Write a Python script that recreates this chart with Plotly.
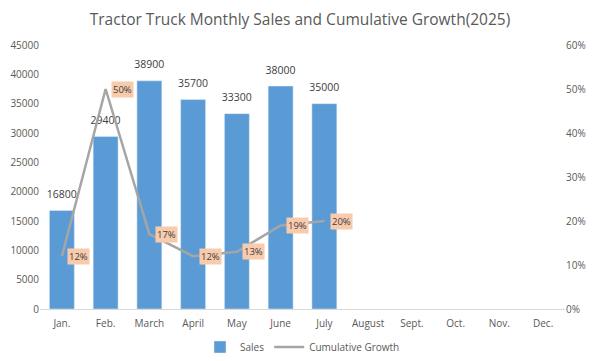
import plotly.graph_objects as go

months = ["Jan.", "Feb.", "March", "April", "May", "June", "July", "August", "Sept.", "Oct.", "Nov.", "Dec."]
sales = [16800, 29400, 38900, 35700, 33300, 38000, 35000, None, None, None, None, None]
growth = [0.12, 0.50, 0.17, 0.12, 0.13, 0.19, 0.20, None, None, None, None, None]

FONT = "Open Sans"
fig = go.Figure()
fig.add_trace(go.Bar(
    x=months, y=sales, name="Sales", marker_color="#5B9BD5",
))
# bar value labels (drawn beneath the growth line, as in the original)
fig.add_trace(go.Scatter(
    x=months, y=sales, mode="markers+text", showlegend=False, hoverinfo="skip",
    marker=dict(size=14, color="rgba(0,0,0,0)"),
    text=[str(v) if v is not None else "" for v in sales], textposition="top center",
    textfont=dict(size=10.5, color="#404040", family=FONT), cliponaxis=False,
))
fig.add_trace(go.Scatter(
    x=months, y=growth, name="Cumulative Growth", mode="lines", yaxis="y2",
    line=dict(color="#A5A5A5", width=2.5),
))
for m, g in zip(months, growth):
    if g is None:
        continue
    fig.add_annotation(x=m, y=g, yref="y2", text=f"{round(g*100)}%", showarrow=False,
                       xshift=17, bgcolor="#F8CBAD", font=dict(size=9.5, color="#404040", family=FONT),
                       borderpad=1)

# page body has an 8px margin, so the figure is sized/offset to compensate
PW, PH = 525, 264
fig.update_layout(
    width=592, height=353,
    margin=dict(l=32, r=35, t=37, b=52, autoexpand=False),
    paper_bgcolor="white", plot_bgcolor="white",
    title=dict(text="Tractor Truck Monthly Sales and Cumulative Growth(2025)", x=292 / 592, xanchor="center",
               xref="container", y=1 - 12 / 353, yanchor="middle",
               font=dict(size=15.5, color="#595959", family=FONT)),
    font=dict(family=FONT, size=10, color="#595959"),
    bargap=0.43,
    showlegend=True,
    legend=dict(orientation="h", x=0.5, xanchor="center", y=-38/PH, yanchor="middle",
                font=dict(size=10, color="#595959")),
    xaxis=dict(range=[-0.5, len(months) - 0.5], showline=True, linecolor="#D9D9D9", linewidth=1,
               ticks="", showgrid=False, ticklabelstandoff=5,
               automargin=False, tickfont=dict(size=10, color="#595959")),
    yaxis=dict(range=[0, 45000], dtick=5000, tickformat="d", showgrid=False, zeroline=False, showline=False,
               automargin=False, tickfont=dict(size=10, color="#595959")),
    yaxis2=dict(range=[0, 0.6], dtick=0.1, tickformat=".0%", overlaying="y", side="right",
                automargin=False, showgrid=False, zeroline=False, showline=False,
                tickfont=dict(size=10, color="#595959")),
)
fig.write_html("out.html")
